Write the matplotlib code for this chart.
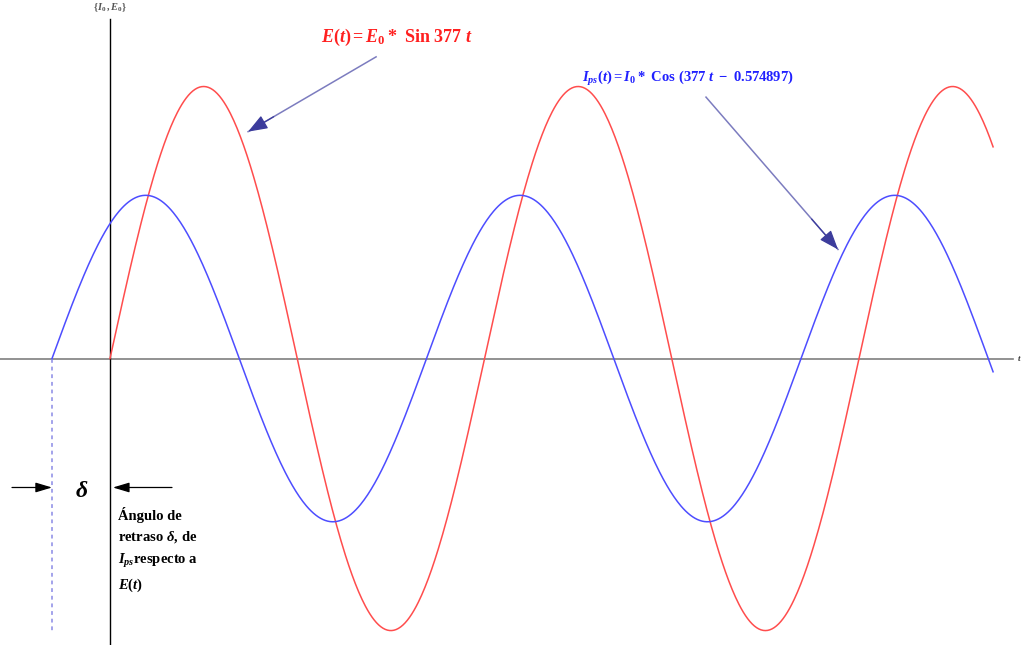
import numpy as np
import matplotlib
matplotlib.use("Agg")
import matplotlib.pyplot as plt

# curve parameters
omega = 377.0            # rad/s
E0 = 1.0                 # voltage amplitude
I0 = 0.60                # current amplitude relative to E0
delta = 0.973            # phase lead of the current curve (rad), as drawn
t_start_E = 0.0
t_start_I = -delta / omega
t_end = 0.0393

# axes extent in data units
t_min, t_max = -0.004895, 0.040676
y_min, y_max = -1.053, 1.318
x_axis_end = 0.0402
y_axis_top = 1.248

# label arrows: (tip, tail)
arrow_E = ((0.006145, 0.834), (0.011842, 1.109))
arrow_I = ((0.032399, 0.401), (0.026524, 0.961))

plt.rcParams["font.family"] = ["Liberation Serif", "DejaVu Serif"]
plt.rcParams["mathtext.fontset"] = "custom"
plt.rcParams["mathtext.it"] = "Liberation Serif:bold:italic"
plt.rcParams["mathtext.rm"] = "Liberation Serif:bold"
plt.rcParams["mathtext.bf"] = "Liberation Serif:bold"

fig = plt.figure(figsize=(10.24, 6.45), dpi=100)
ax = fig.add_axes([0, 0, 1, 1])
ax.set_xlim(t_min, t_max)
ax.set_ylim(y_min, y_max)
ax.axis("off")

# axes through the origin
ax.plot([t_min, x_axis_end], [0, 0], color="#7f7f7f", lw=1.2, zorder=1)
ax.plot([0, 0], [y_min, y_axis_top], color="black", lw=1.0, zorder=1)
ax.text(0, 1.29, r"$\{I_0\,,E_0\}$", fontsize=7.5, color="#555555",
        ha="center", va="center")
ax.text(0.04045, 0, r"$t$", fontsize=6.5, color="#333333", ha="center", va="center")

tE = np.linspace(t_start_E, t_end, 800)
tI = np.linspace(t_start_I, t_end, 800)
ax.plot(tE, E0 * np.sin(omega * tE), color="#ff4d4d", lw=1.1, zorder=3)
ax.plot(tI, I0 * np.sin(omega * tI + delta), color="#4d4dff", lw=1.1, zorder=3)

# dashed marker at the current's zero crossing
ax.plot([t_start_I, t_start_I], [0, -1.007], color="#8a8ae6", lw=1.1,
        ls=(0, (2.5, 2.5)), zorder=2)

# arrows: light shaft, dark filled head
head = dict(arrowstyle="-|>,head_length=1.2,head_width=0.45", color="#3c3c9c",
            lw=0.9, shrinkA=0, shrinkB=0)
for tip, tail in (arrow_E, arrow_I):
    ax.plot([tail[0], tip[0]], [tail[1], tip[1]], color="#7c7cbf", lw=1.1, zorder=4)
    mid = (tip[0] + 0.2 * (tail[0] - tip[0]), tip[1] + 0.2 * (tail[1] - tip[1]))
    ax.annotate("", xy=tip, xytext=mid, arrowprops=head, zorder=5)

ax.text(0.012776, 1.18, r"$E(t) = E_0 * \mathrm{\ Sin\ 377\ }t$",
        fontsize=13, color="#ff2020", ha="center", va="center")
ax.text(0.025723, 1.028,
        r"$I_{ps}(t) = I_0 * \mathrm{\ Cos\ (377\ }t\mathrm{\ -\ 0.574897)}$",
        fontsize=10.5, color="#2020ff", ha="center", va="center")

# delta markers
small = dict(arrowstyle="-|>,head_length=1.0,head_width=0.3", color="black",
             lw=0.9, shrinkA=0, shrinkB=0)
ax.annotate("", xy=(t_start_I, -0.474), xytext=(-0.004361, -0.474), arrowprops=small)
ax.annotate("", xy=(0.00013, -0.474), xytext=(0.002759, -0.474), arrowprops=small)
ax.text(-0.001246, -0.487, r"$\delta$", fontsize=17,
        ha="center", va="center")

ax.text(0.00036, -0.545, "\u00c1ngulo de\nretraso " + r"$\delta$" + ", de\n"
        + r"$I_{ps}$" + "respecto a\n" + r"$E(t)$",
        fontsize=10.5, fontweight="bold", ha="left", va="top", linespacing=1.55)

fig.savefig("out.png", dpi=100)
